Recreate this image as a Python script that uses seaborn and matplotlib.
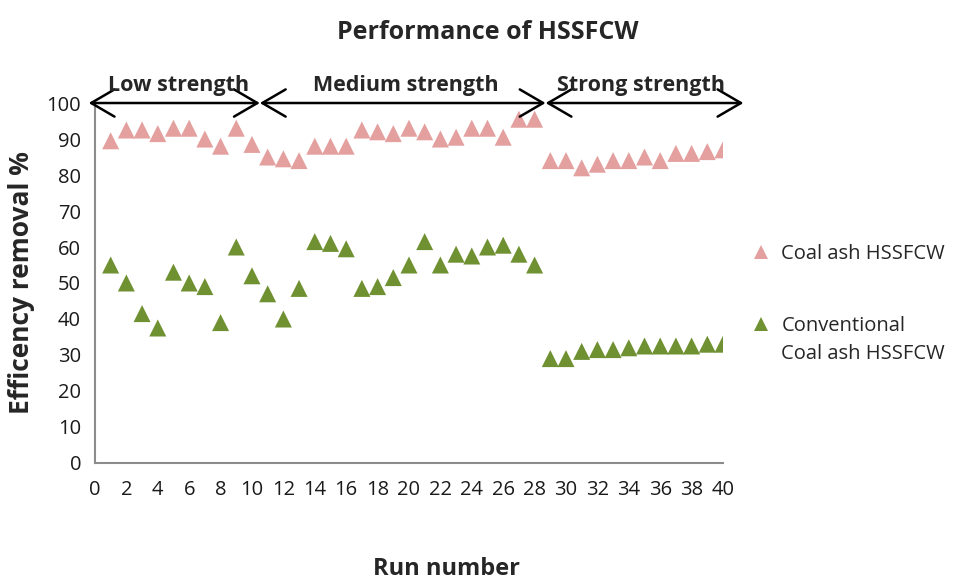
import matplotlib
matplotlib.use("Agg")
import matplotlib.pyplot as plt
import seaborn as sns
import pandas as pd

runs = list(range(1, 41))
coal_ash = [89.5, 92.5, 92.5, 91.5, 93, 93, 90, 88, 93, 88.5,
            85, 84.5, 84, 88, 88, 88, 92.5, 92, 91.5, 93,
            92, 90, 90.5, 93, 93, 90.5, 95.5, 95.5, 84, 84,
            82, 83, 84, 84, 85, 84, 86, 86, 86.5, 87]
conventional = [55, 50, 41.5, 37.5, 53, 50, 49, 39, 60, 52,
                47, 40, 48.5, 61.5, 61, 59.5, 48.5, 49, 51.5, 55,
                61.5, 55, 58, 57.5, 60, 60.5, 58, 55, 29, 29,
                31, 31.5, 31.5, 32, 32.5, 32.5, 32.5, 32.5, 33, 33]
series_names = ["Coal ash HSSFCW", "Conventional\nCoal ash HSSFCW"]
phases = ["Low strength", "Medium strength", "Strong strength"]
phase_bounds = [(-0.4, 10.5), (10.5, 28.7), (28.7, 41.3)]
phase_label_x = [5.3, 19.8, 34.8]

df = pd.DataFrame({
    "run": runs * 2,
    "value": coal_ash + conventional,
    "series": [series_names[0]] * len(runs) + [series_names[1]] * len(runs),
})

sns.set_style("white")
plt.rcParams["font.family"] = ["Open Sans", "DejaVu Sans"]

fig = plt.figure(figsize=(9.71, 5.82), dpi=100)
ax = fig.add_axes([0.0978, 0.2045, 0.6468, 0.6185])

palette = {series_names[0]: "#E3A09F", series_names[1]: "#6F9132"}
sns.scatterplot(data=df, x="run", y="value", hue="series", palette=palette,
                marker="^", s=150, linewidth=0, ax=ax, legend=True)

ax.set_xlim(0, 40)
ax.set_ylim(0, 100)
ax.set_xticks(range(0, 41, 2))
ax.set_yticks(range(0, 101, 10))
for s in ["top", "right"]:
    ax.spines[s].set_visible(False)
for s in ["left", "bottom"]:
    ax.spines[s].set_color("#8C8C8C")
    ax.spines[s].set_linewidth(1.5)
ax.tick_params(axis="both", direction="out", length=6, width=1.2,
               color="#8C8C8C", labelsize=14.5, pad=4, labelcolor="#1a1a1a")
ax.tick_params(axis="x", pad=6)

ax.set_xlabel("")
ax.set_ylabel("Efficency removal %", fontsize=19, fontweight="bold", labelpad=8)
fig.text(0.46, 0.022, "Run number", ha="center", va="center",
         fontsize=17, fontweight="bold")
fig.text(0.502, 0.945, "Performance of HSSFCW", ha="center", va="center",
         fontsize=18, fontweight="bold")

for (x0, x1), name, lx in zip(phase_bounds, phases, phase_label_x):
    ax.annotate("", xy=(x1, 100), xytext=(x0, 100), xycoords="data",
                arrowprops=dict(arrowstyle="<->,head_length=0.6,head_width=0.35",
                                color="black", lw=1.8,
                                mutation_scale=28, shrinkA=0, shrinkB=0),
                annotation_clip=False)
    ax.text(lx, 103.4, name, ha="center", va="baseline", fontsize=15.5,
            fontweight="bold", clip_on=False)

# Legend: marker aligned with the first line of each label (as in the reference)
handles, labels = ax.get_legend_handles_labels()
first_lines = [lab.split("\n")[0] for lab in labels]
leg = ax.legend(handles, first_lines, loc="center left",
                bbox_to_anchor=(1.0, 0.48), frameon=False,
                fontsize=14.5, handletextpad=0.0, labelspacing=2.6,
                markerscale=0.85, title=None)

fig.canvas.draw()
renderer = fig.canvas.get_renderer()
inv = fig.transFigure.inverted()
for lab, txt in zip(labels, leg.get_texts()):
    extra = lab.split("\n")[1:]
    if not extra:
        continue
    bb = txt.get_window_extent(renderer)
    x0, y0 = inv.transform((bb.x0, bb.y0))
    line_h = 30 / fig.bbox.height
    for i, line in enumerate(extra, start=1):
        fig.text(x0, y0 - line_h * i + 0.004, line, ha="left", va="bottom",
                 fontsize=14.5, color=txt.get_color())

fig.savefig("out.png", dpi=100, facecolor="white")
